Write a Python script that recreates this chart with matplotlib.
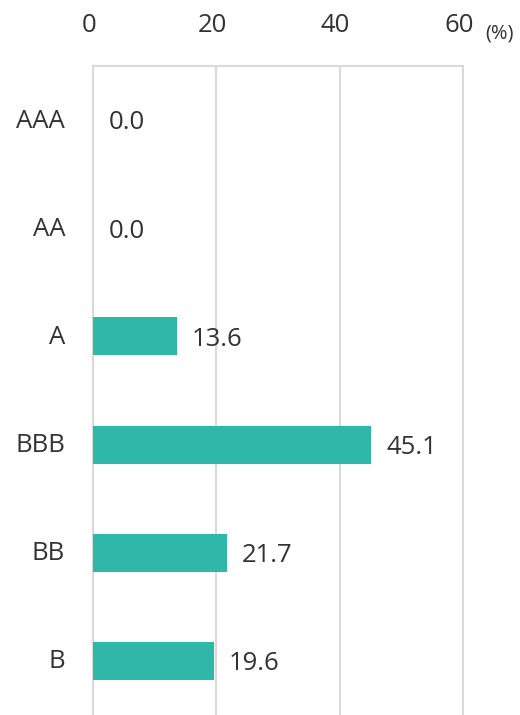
import numpy as np
import matplotlib.pyplot as plt
import matplotlib.transforms as mtransforms

plt.rcParams['font.family'] = ['Open Sans', 'DejaVu Sans']

ratings = ['AAA', 'AA', 'A', 'BBB', 'BB', 'B']
shares = [0.0, 0.0, 13.6, 45.1, 21.7, 19.6]
xticks = [0, 20, 40, 60]

bar_color = '#2fb7aa'
grid_color = '#d9d9d9'
text_color = '#333333'

fig = plt.figure(figsize=(5.2, 7.15), dpi=100)
ax = fig.add_axes([0.1788, 0.0, 0.7115, 0.9077])

y = np.arange(len(ratings))
ax.barh(y, shares, height=0.35, color=bar_color, zorder=3)

for yi, v in zip(y, shares):
    ax.annotate(f'{v:.1f}', xy=(v, yi), xytext=(11, -2), textcoords='offset points',
                ha='left', va='center', fontsize=18.5, color=text_color, zorder=4)

ax.set_xlim(0, 60)
ax.set_ylim(len(ratings) - 0.5, -0.5)
ax.set_yticks(y)
ax.set_yticklabels(ratings)
ax.set_xticks(xticks)
ax.xaxis.tick_top()
ax.tick_params(axis='x', length=0, pad=20, labelsize=18.5, labelcolor=text_color)
ax.tick_params(axis='y', length=0, pad=20, labelsize=18.5, labelcolor=text_color)

# tick labels sit a little left of their gridlines
shift = mtransforms.ScaledTranslation(-4 / 100, 0, fig.dpi_scale_trans)
for lbl in ax.get_xticklabels():
    lbl.set_transform(lbl.get_transform() + shift)
yshift = mtransforms.ScaledTranslation(0, 2 / 100, fig.dpi_scale_trans)
for lbl in ax.get_yticklabels():
    lbl.set_transform(lbl.get_transform() + yshift)

ax.grid(axis='x', color=grid_color, linewidth=1.5, zorder=0)
for side in ['top', 'left', 'right']:
    ax.spines[side].set_color(grid_color)
    ax.spines[side].set_linewidth(1.5)
ax.spines['bottom'].set_visible(False)

fig.text(0.933, 0.953, '(%)', fontsize=14.5, color=text_color, ha='left', va='center')

plt.savefig('out.png', dpi=100)
